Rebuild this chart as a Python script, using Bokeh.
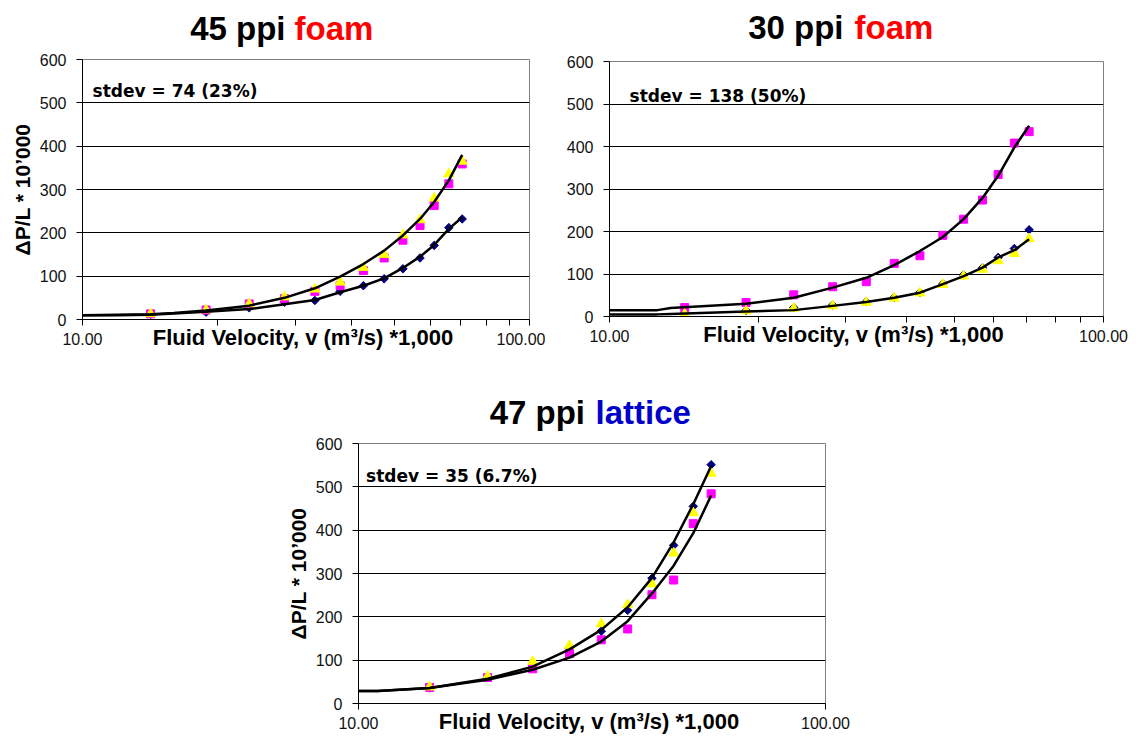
from bokeh.plotting import figure
from bokeh.models import Range1d, FixedTicker, NumeralTickFormatter, Label, Spacer
from bokeh.layouts import row, column
from bokeh.core.properties import value
from bokeh.embed import file_html
from bokeh.resources import INLINE

# ---------------- data ----------------
velocity = [14.2, 18.9, 23.6, 28.3, 33.1, 37.7, 42.5, 47.3, 52.1, 56.9, 61.2, 66.0, 70.7]

# 45 ppi foam
p45_diamond = [12, 17, 27, 40, 44, 65, 78, 94, 117, 142, 171, 212, 232]
p45_square = [13, 22, 36, 48, 65, 78, 113, 142, 183, 217, 263, 313, 359]
p45_triangle = [13, 22, 36, 52, 70, 86, 120, 150, 195, 230, 280, 336, 365]
p45_fit_v = [10, 12, 14.2, 16, 18.9, 23.6, 28.3, 33.1, 37.7, 42.5, 47.3, 52.1, 56.9, 61.2, 66.0, 70.7]
p45_fit_hi = [10, 11, 12, 15, 21, 32, 50, 72, 99, 128, 159, 194, 232, 271, 321, 380]
p45_fit_lo = [10, 10, 11, 14, 18, 24, 35, 45, 63, 78, 95, 119, 145, 172, 209, 236]

# 30 ppi foam
p30_diamond = [8, 14, 21, 27, 35, 45, 57, 77, 98, 115, 139, 160, 204]
p30_square = [21, 33, 51, 70, 82, 125, 143, 191, 229, 274, 334, 408, 435]
p30_triangle = [6, 13, 19, 25, 33, 43, 55, 75, 95, 111, 131, 148, 183]
p30_fit_v = [10, 12.5, 13.3, 18.9, 23.6, 28.3, 33.1, 37.7, 42.5, 47.3, 52.1, 56.9, 61.2, 66.0, 70.7]
p30_fit_hi = [15, 15, 20, 30, 44, 68, 91, 121, 154, 187, 229, 279, 331, 398, 449]
p30_fit_lo = [5, 5, 6, 12, 15, 25, 34, 44, 56, 76, 95, 115, 139, 156, 182]

# 47 ppi lattice
v47 = [14.2, 18.9, 23.6, 28.3, 33.1, 37.7, 42.5, 47.3, 52.1, 56.9]
p47_diamond = [36, 60, 90, 127, 167, 215, 289, 365, 455, 551]
p47_square = [37, 60, 80, 115, 147, 172, 251, 285, 415, 484]
p47_triangle = [38, 63, 97, 134, 184, 228, 276, 347, 440, 531]
p47_fit_v = [10, 11, 14.2, 18.9, 23.6, 28.3, 33.1, 37.7, 42.5, 47.3, 52.1, 56.9]
p47_fit_hi = [29, 29, 36, 57, 85, 125, 170, 222, 290, 372, 460, 548]
p47_fit_lo = [29, 29, 36, 55, 78, 106, 143, 190, 254, 318, 393, 480]

y_ticks = [0, 100, 200, 300, 400, 500, 600]
x_major = [10, 100]
x_minor = [20, 30, 40, 50, 60, 70, 80, 90]

X_LABEL = "Fluid Velocity, v (m\u00b3/s)  *1,000"
Y_LABEL = "\u0394P/L * 10\u2019000"

FONT = "Liberation Sans"


def title_strip(width, height, bl, br, frame_x0, frame_x1, xa, xb, y,
                text_a, text_b, color_b):
    # strip whose frame lines up with the panel frame below it;
    # x range expressed in page pixels of that frame
    s = figure(width=width, height=height,
               x_range=Range1d(frame_x0, frame_x1),
               y_range=Range1d(0, height), output_backend="svg",
               toolbar_location=None, title=None,
               x_axis_location=None, y_axis_location=None,
               min_border=0, min_border_left=bl, min_border_right=br,
               min_border_top=0, min_border_bottom=0)
    s.grid.visible = False
    s.outline_line_color = None
    s.background_fill_color = "white"
    s.border_fill_color = "white"
    s.text(x=[xa], y=[y], text=[text_a], text_align="right",
           text_baseline="middle", text_font=value(FONT),
           text_font_style="bold", text_font_size="33px", text_color="black")
    s.text(x=[xb], y=[y], text=[text_b], text_align="left",
           text_baseline="middle", text_font=value(FONT),
           text_font_style="bold", text_font_size="33px", text_color=color_b)
    return s


def make_panel(width, height, bl, br, bt, bb, ylabel, minor,
               stdev_text, sx, sy, v, dia, sq, tri, fv, fhi, flo):
    p = figure(width=width, height=height, x_axis_type="log",
               x_range=Range1d(10, 100), y_range=Range1d(0, 600),
               output_backend="svg", toolbar_location=None, title=None,
               min_border_left=bl, min_border_right=br,
               min_border_top=bt, min_border_bottom=bb)
    p.background_fill_color = "white"
    p.border_fill_color = "white"
    p.outline_line_color = "#808080"
    p.outline_line_width = 1

    p.xgrid.visible = False
    p.ygrid.grid_line_color = "black"
    p.ygrid.grid_line_width = 1
    p.ygrid.ticker = FixedTicker(ticks=y_ticks)

    xa = p.xaxis[0]
    xa.ticker = FixedTicker(ticks=x_major, minor_ticks=minor)
    xa.formatter = NumeralTickFormatter(format="0.00")
    xa.axis_line_color = "black"
    xa.major_tick_line_color = "black"
    xa.minor_tick_line_color = "black"
    xa.major_tick_out = 6
    xa.major_tick_in = 0
    xa.minor_tick_out = 6
    xa.minor_tick_in = 0
    xa.major_label_standoff = 7
    xa.major_label_text_font = FONT
    xa.major_label_text_font_size = "16px"
    xa.major_label_text_color = "#111111"
    xa.axis_label = X_LABEL
    xa.axis_label_text_font = FONT
    xa.axis_label_text_font_style = "bold"
    xa.axis_label_text_font_size = "22px"
    xa.axis_label_text_color = "black"
    xa.axis_label_standoff = -23

    ya = p.yaxis[0]
    ya.ticker = FixedTicker(ticks=y_ticks)
    ya.axis_line_color = "black"
    ya.major_tick_line_color = "black"
    ya.major_tick_out = 6
    ya.major_tick_in = 0
    ya.minor_tick_line_color = None
    ya.major_label_standoff = 10
    ya.major_label_text_font = FONT
    ya.major_label_text_font_size = "16px"
    ya.major_label_text_color = "#111111"
    if ylabel:
        ya.axis_label = Y_LABEL
        ya.axis_label_text_font = FONT
        ya.axis_label_text_font_style = "bold"
        ya.axis_label_text_font_size = "21px"
        ya.axis_label_text_color = "black"
        ya.axis_label_standoff = 3

    # markers
    p.scatter(v, dia, marker="square", angle=0.785398, size=6,
              fill_color="#000080", line_color="#000080")
    p.scatter(v, sq, marker="square", size=8,
              fill_color="#FF00FF", line_color="#FF00FF")
    p.scatter(v, tri, marker="triangle", size=10,
              fill_color="#FFFF00", line_color="#FFFF00")
    # trend lines
    p.line(fv, fhi, line_color="black", line_width=2.5, line_join="round")
    p.line(fv, flo, line_color="black", line_width=2.5, line_join="round")

    # stdev note
    p.add_layout(Label(x=sx, y=sy, text=stdev_text, text_font="DejaVu Sans",
                       text_font_style="bold", text_font_size="17px",
                       text_color="black", text_baseline="alphabetic"))
    return p


t1 = title_strip(545, 48, 82, 16, 82, 529, 285, 294, 20.5,
                 "45 ppi", "foam", "#FF0000")
p1 = make_panel(545, 328, 82, 16, 11, 57, True, x_minor,
                "stdev = 74 (23%)", 10.53, 528,
                velocity, p45_diamond, p45_square, p45_triangle,
                p45_fit_v, p45_fit_hi, p45_fit_lo)

t2 = title_strip(591, 48, 64, 33, 609, 1103, 843, 854, 21.5,
                 "30 ppi", "foam", "#FF0000")
p2 = make_panel(591, 328, 64, 33, 13, 60, False, x_minor,
                "stdev = 138 (50%)", 10.98, 520,
                velocity, p30_diamond, p30_square, p30_triangle,
                p30_fit_v, p30_fit_hi, p30_fit_lo)

t3 = title_strip(600, 56, 98, 35, 358, 825, 584.5, 595, 20.5,
                 "47 ppi", "lattice", "#0000CC")
p3 = make_panel(600, 308, 98, 35, 11, 37, True, [],
                "stdev = 35 (6.7%)", 10.38, 524,
                v47, p47_diamond, p47_square, p47_triangle,
                p47_fit_v, p47_fit_hi, p47_fit_lo)

layout = column(
    row(column(t1, p1), column(t2, p2)),
    row(Spacer(width=260, height=364), column(t3, p3)),
)

open("out.html", "w").write(file_html(layout, INLINE))
